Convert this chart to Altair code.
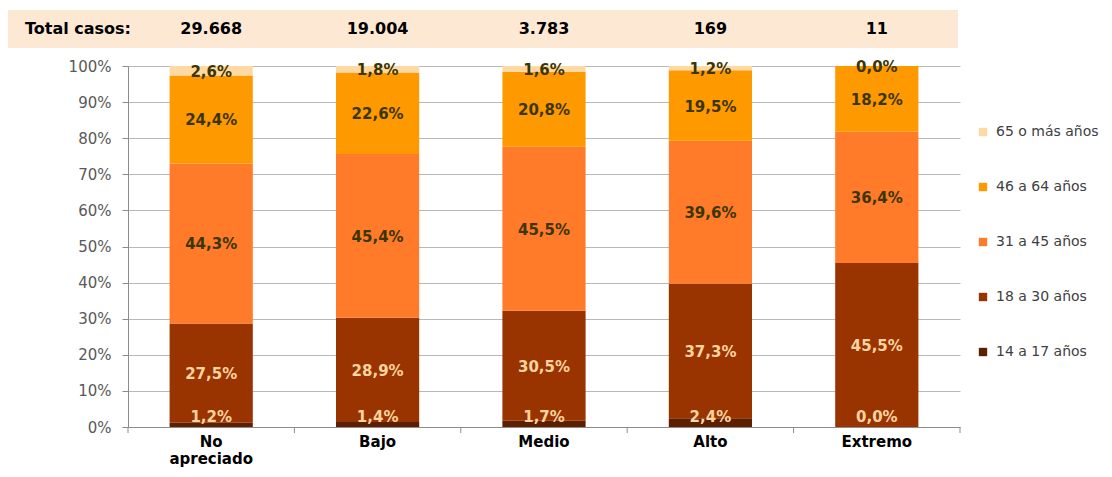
import altair as alt
import pandas as pd

categories = ["No apreciado", "Bajo", "Medio", "Alto", "Extremo"]
totals = ["29.668", "19.004", "3.783", "169", "11"]
groups = ["14 a 17 años", "18 a 30 años", "31 a 45 años", "46 a 64 años", "65 o más años"]
v_14_17 = [1.2, 1.4, 1.7, 2.4, 0.0]
v_18_30 = [27.5, 28.9, 30.5, 37.3, 45.5]
v_31_45 = [44.3, 45.4, 45.5, 39.6, 36.4]
v_46_64 = [24.4, 22.6, 20.8, 19.5, 18.2]
v_65 = [2.6, 1.8, 1.6, 1.2, 0.0]
colors = ["#5C1F00", "#993300", "#FF7B29", "#FF9900", "#FFD9A3"]
label_colors = ["#FFD4A0", "#FFD4A0", "#3B3500", "#3B3500", "#3B3500"]

series = [v_14_17, v_18_30, v_31_45, v_46_64, v_65]
rows = []
for ci, cat in enumerate(categories):
    vals = [s[ci] for s in series]
    tot = sum(vals)
    cum = 0.0
    for gi, g in enumerate(groups):
        v = vals[gi] / tot * 100
        rows.append({
            "cat": cat, "grupo": g, "ord": gi,
            "start": cum, "end": cum + v, "mid": cum + v / 2,
            "label": f"{vals[gi]:.1f}".replace(".", ",") + "%",
            "lcolor": label_colors[gi],
        })
        cum += v
df = pd.DataFrame(rows)
df_tot = pd.DataFrame({"cat": categories, "total": totals})

FONT = "DejaVu Sans"
W, H = 832, 361
xscale = alt.Scale(domain=categories, paddingInner=0, paddingOuter=0)
yscale = alt.Scale(domain=[0, 100])

xaxis = alt.Axis(ticks=False, labelAngle=0, labelFont=FONT, labelFontWeight="bold",
                 labelFontSize=15, labelColor="#000000", labelPadding=7,
                 labelLineHeight=17, domainColor="#8C8C8C", bandPosition=0.5,
                 labelAlign="center", title=None,
                 labelExpr="datum.label == 'No apreciado' ? ['No', 'apreciado'] : datum.label")
yaxis = alt.Axis(values=list(range(0, 101, 10)), labelExpr="datum.value + '%'",
                 labelFont=FONT, labelFontSize=15, labelColor="#595959",
                 labelOverlap=False, labelBound=False, title=None,
                 tickSize=6, tickColor="#8C8C8C", domainColor="#8C8C8C",
                 gridColor="#B8B8B8", labelPadding=11)

header_bg = alt.Chart(pd.DataFrame({"a": [0]})).mark_rect(color="#FDE8D3").encode(
    x=alt.value(-120), x2=alt.value(830), y=alt.value(-56), y2=alt.value(-18)
)
header_title = alt.Chart(pd.DataFrame({"t": ["Total casos:"]})).mark_text(
    font=FONT, fontWeight="bold", fontSize=16, color="#000000", align="left", baseline="middle"
).encode(x=alt.value(-103), y=alt.value(-37), text="t:N")
header_vals = alt.Chart(df_tot).mark_text(
    font=FONT, fontWeight="bold", fontSize=16, color="#000000", baseline="middle"
).encode(x=alt.X("cat:N", scale=xscale, axis=xaxis), y=alt.value(-37), text="total:N")

bars = alt.Chart(df).mark_bar(width=alt.RelativeBandSize(0.5)).encode(
    x=alt.X("cat:N", scale=xscale, sort=categories, title=None, axis=xaxis),
    y=alt.Y("start:Q", scale=yscale, title=None, axis=yaxis),
    y2="end:Q",
    color=alt.Color("grupo:N", scale=alt.Scale(domain=groups[::-1], range=colors[::-1]),
                    legend=alt.Legend(title=None, orient="none", legendX=848, legendY=59,
                                      symbolType="square", symbolSize=70, symbolStrokeWidth=0,
                                      labelFont=FONT, labelFontSize=14, labelColor="#404040",
                                      rowPadding=41, labelOffset=6, padding=0)),
    order=alt.Order("ord:Q", sort="ascending"),
)

mid_labels = alt.Chart(df).transform_filter("datum.ord > 0").mark_text(
    font=FONT, fontWeight="bold", fontSize=15, baseline="middle", dy=1
).encode(
    x=alt.X("cat:N", scale=xscale, axis=xaxis),
    y=alt.Y("mid:Q", scale=yscale, axis=yaxis),
    text="label:N",
    color=alt.Color("lcolor:N", scale=None),
)
bottom_labels = alt.Chart(df).transform_filter("datum.ord == 0").mark_text(
    font=FONT, fontWeight="bold", fontSize=15, baseline="bottom", dy=-2
).encode(
    x=alt.X("cat:N", scale=xscale, axis=xaxis),
    y=alt.value(H),
    text="label:N",
    color=alt.Color("lcolor:N", scale=None),
)

xticks = alt.Chart(df_tot).mark_rule(color="#8C8C8C").encode(
    x=alt.X("cat:N", scale=xscale, bandPosition=0, axis=xaxis),
    y=alt.value(H), y2=alt.value(H + 6),
)
xtick_end = alt.Chart(df_tot).transform_filter("datum.cat == 'Extremo'").mark_rule(color="#8C8C8C").encode(
    x=alt.X("cat:N", scale=xscale, bandPosition=1, axis=xaxis),
    y=alt.value(H), y2=alt.value(H + 6),
)

chart = alt.layer(
    header_bg, header_title, header_vals, bars, mid_labels, bottom_labels, xticks, xtick_end
).properties(
    width=W, height=H,
    autosize=alt.AutoSizeParams(type="none"),
    padding={"left": 120, "top": 58, "right": 144, "bottom": 42},
).configure_view(stroke=None).configure_axis(gridWidth=1)

chart.save("out.html", embed_options={"renderer": "svg", "actions": False})
